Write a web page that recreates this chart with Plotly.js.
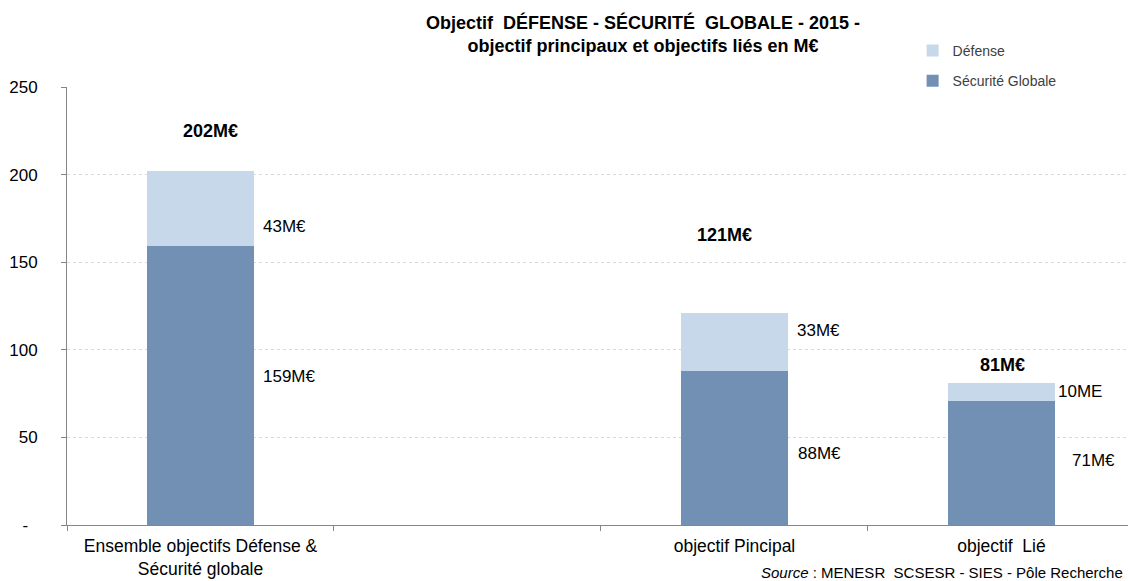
<!DOCTYPE html>
<html><head><meta charset="utf-8">
<script src="https://cdn.plot.ly/plotly-3.0.1.min.js"></script>
<style>html,body{margin:0;padding:0;overflow:hidden;background:#fff}</style>
</head><body><div id="chart" style="width:1128px;height:581px"></div>
<script>
// ---- data ----
const categories = ["Ensemble objectifs Défense &<br>Sécurité globale", "\u00a0", "objectif Pincipal", "objectif\u00a0 Lié"];
const securiteGlobale = [159, null, 88, 71];
const defense = [43, null, 33, 10];
const totalLabels = ["202M€", "", "121M€", "81M€"];
const defenseLabels = ["43M€", "", "33M€", "10ME"];
const securiteLabels = ["159M€", "", "88M€", "71M€"];
const yTickVals = [0, 50, 100, 150, 200, 250];
const yTickText = ["-\u00a0\u00a0", "50", "100", "150", "200", "250"];

// ---- label placement (pixel offsets, layout only) ----
const totalOffsets = [[10, 40], [0, 0], [-10, 78], [1, 18]];
const defenseOffsets = [[61, -18], [0, 0], [61, 11], [55, 0]];
const securiteOffsets = [[61, 9], [0, 0], [62, -6], [69, 2]];

const FONT = '"Liberation Sans", Arial, sans-serif';
const darkBlue = '#728fb4';
const lightBlue = '#c6d8ea';

const traces = [
  {type: 'bar', name: 'Sécurité Globale', x: categories, y: securiteGlobale,
   marker: {color: darkBlue}, legendgroup: 'sg', legendrank: 2, hoverinfo: 'skip'},
  {type: 'bar', name: 'Défense', x: categories, y: defense,
   marker: {color: lightBlue}, legendgroup: 'def', legendrank: 1, hoverinfo: 'skip'}
];

const annotations = [];
categories.forEach((c, i) => {
  if (securiteGlobale[i] == null) return;
  const total = securiteGlobale[i] + defense[i];
  annotations.push({x: c, y: total, xref: 'x', yref: 'y', text: '<b>' + totalLabels[i] + '</b>',
    showarrow: false, xanchor: 'center', yanchor: 'middle',
    xshift: totalOffsets[i][0], yshift: totalOffsets[i][1], font: {size: 18, color: '#000'}});
  annotations.push({x: c, y: securiteGlobale[i] + defense[i] / 2, xref: 'x', yref: 'y', text: defenseLabels[i],
    showarrow: false, xanchor: 'left', yanchor: 'middle',
    xshift: defenseOffsets[i][0], yshift: defenseOffsets[i][1], font: {size: 17, color: '#000'}});
  annotations.push({x: c, y: securiteGlobale[i] / 2, xref: 'x', yref: 'y', text: securiteLabels[i],
    showarrow: false, xanchor: 'left', yanchor: 'middle',
    xshift: securiteOffsets[i][0], yshift: securiteOffsets[i][1], font: {size: 17, color: '#000'}});
});
annotations.push({xref: 'paper', yref: 'paper', x: 1, y: -0.112, xanchor: 'right', yanchor: 'middle',
  xshift: -3, yshift: 2, showarrow: false, text: '<i>Source</i> : MENESR\u00a0 SCSESR - SIES - Pôle Recherche',
  font: {size: 15, color: '#000'}});

const layout = {
  width: 1128, height: 581,
  margin: {l: 67, r: 0, t: 87, b: 56, pad: 0},
  paper_bgcolor: '#fff', plot_bgcolor: '#fff',
  font: {family: FONT, color: '#000'},
  barmode: 'stack', bargap: 0.6,
  showlegend: true,
  title: {
    text: '<b>Objectif\u00a0 DÉFENSE - SÉCURITÉ\u00a0 GLOBALE - 2015 -<br>objectif principaux et objectifs liés en M€</b>',
    font: {size: 18, color: '#000', family: FONT},
    xref: 'container', x: 0.57, xanchor: 'center',
    yref: 'container', y: 0.95, yanchor: 'middle'
  },
  xaxis: {
    type: 'category', range: [-0.5, 3.474],
    showline: true, linecolor: '#868686', linewidth: 1,
    ticks: 'outside', tickson: 'boundaries', ticklen: 5, tickcolor: '#868686',
    showgrid: false, zeroline: false, ticklabelstandoff: 5,
    tickfont: {size: 17.5, color: '#000', family: FONT}
  },
  yaxis: {
    range: [0, 250], tickmode: 'array', tickvals: yTickVals, ticktext: yTickText,
    showline: true, linecolor: '#868686', linewidth: 1,
    ticks: 'outside', ticklen: 5, tickcolor: '#868686',
    showgrid: true, gridcolor: '#d9d9d9', griddash: 'dot', gridwidth: 1,
    zeroline: false, ticklabelstandoff: 20,
    tickfont: {size: 17, color: '#000', family: FONT}
  },
  legend: {
    x: 0.797, xanchor: 'left', xref: 'paper',
    y: 1.119, yanchor: 'top', yref: 'paper',
    bgcolor: '#fff', borderwidth: 0,
    traceorder: 'grouped', tracegroupgap: 9,
    font: {size: 14, color: '#404040', family: FONT}
  },
  annotations: annotations
};

Plotly.newPlot('chart', traces, layout, {displayModeBar: false, staticPlot: true});
</script>
</body></html>
